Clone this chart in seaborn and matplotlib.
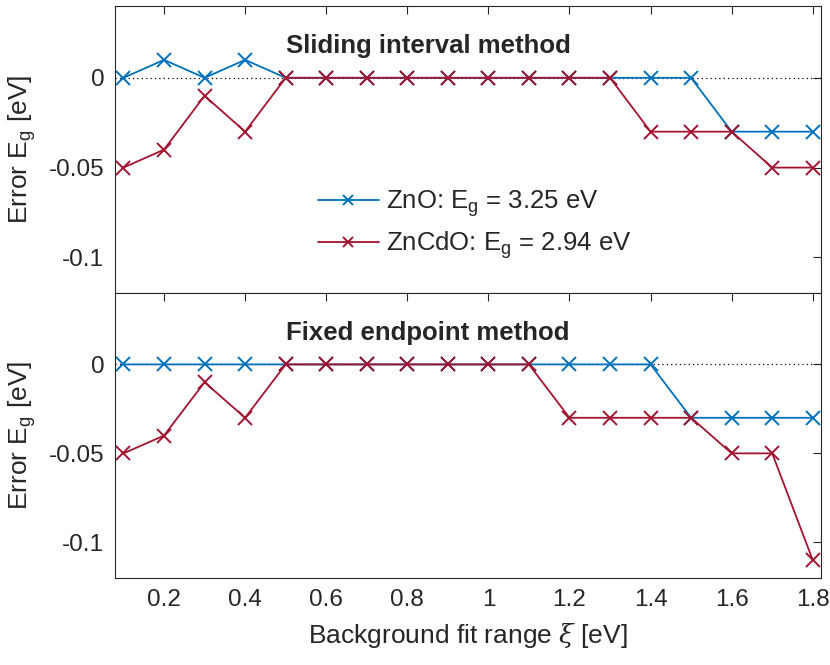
import numpy as np
import pandas as pd
import seaborn as sns
import matplotlib
matplotlib.use("Agg")
import matplotlib.pyplot as plt

# background fit range (eV)
xi = [0.1, 0.2, 0.3, 0.4, 0.5, 0.6, 0.7, 0.8, 0.9, 1.0,
      1.1, 1.2, 1.3, 1.4, 1.5, 1.6, 1.7, 1.8]

# sliding interval method
slide_zno = [0, 0.01, 0, 0.01, 0, 0, 0, 0, 0, 0,
             0, 0, 0, 0, 0, -0.03, -0.03, -0.03]
slide_zncdo = [-0.05, -0.04, -0.01, -0.03, 0, 0, 0, 0, 0, 0,
               0, 0, 0, -0.03, -0.03, -0.03, -0.05, -0.05]

# fixed endpoint method
fixed_zno = [0, 0, 0, 0, 0, 0, 0, 0, 0, 0,
             0, 0, 0, 0, -0.03, -0.03, -0.03, -0.03]
fixed_zncdo = [-0.05, -0.04, -0.01, -0.03, 0, 0, 0, 0, 0, 0,
               0, -0.03, -0.03, -0.03, -0.03, -0.05, -0.05, -0.11]

labels = ['ZnO: E$_\\mathregular{g}$ = 3.25 eV',
          'ZnCdO: E$_\\mathregular{g}$ = 2.94 eV']
titles = ['Sliding interval method', 'Fixed endpoint method']
xticks = [0.2, 0.4, 0.6, 0.8, 1.0, 1.2, 1.4, 1.6, 1.8]
xticklabels = ['0.2', '0.4', '0.6', '0.8', '1', '1.2', '1.4', '1.6', '1.8']
yticks = [-0.1, -0.05, 0]
yticklabels = ['-0.1', '-0.05', '0']

BLUE = '#0072BD'
RED = '#A2142F'

sns.set_style("white")
plt.rcParams['font.family'] = ['Liberation Sans', 'DejaVu Sans']
plt.rcParams['mathtext.fontset'] = 'custom'
plt.rcParams['mathtext.rm'] = 'Liberation Sans'
plt.rcParams['mathtext.it'] = 'DejaVu Serif:italic'
plt.rcParams['axes.unicode_minus'] = False

fig = plt.figure(figsize=(8.3, 6.65), dpi=100)
ax1 = fig.add_axes([0.139, 0.559, 0.850, 0.432])
ax2 = fig.add_axes([0.139, 0.131, 0.850, 0.428])

panels = [(ax1, slide_zno, slide_zncdo), (ax2, fixed_zno, fixed_zncdo)]
for i, (ax, zno, zncdo) in enumerate(panels):
    ax.axhline(0, color='black', ls=(0, (1, 2.5)), lw=0.9, zorder=1)
    for vals, col, lab in [(zno, BLUE, labels[0]), (zncdo, RED, labels[1])]:
        sns.lineplot(x=xi, y=vals, color=col, marker='x', markersize=10,
                     markeredgewidth=1.4, markeredgecolor=col, lw=1.3,
                     ax=ax, label=lab if i == 0 else None)
    ax.set_xlim(0.08, 1.82)
    ax.set_ylim(-0.12, 0.04)
    ax.set_yticks(yticks)
    ax.set_yticklabels(yticklabels)
    ax.set_xticks(xticks)
    ax.tick_params(direction='in', length=6, width=0.8, color='#262626',
                   top=True, right=True, labelsize=17.5, pad=8)
    for s in ax.spines.values():
        s.set_color('#262626')
        s.set_linewidth(0.8)
    ax.set_ylabel('Error E$_\\mathregular{g}$ [eV]', fontsize=19, labelpad=8)
    ax.text(0.5, 0.0175, titles[i], fontsize=18.5, fontweight='bold',
            ha='left', va='center')

ax1.set_xticklabels([])
ax2.set_xticklabels(xticklabels)
ax2.set_xlabel('Background fit range $\\xi$ [eV]', fontsize=19, labelpad=7)

leg = ax1.legend(loc='upper left', bbox_to_anchor=(0.272, 0.40),
                 frameon=False, fontsize=18.5, handlelength=2.4,
                 handletextpad=0.25, labelspacing=0.4, markerscale=0.75,
                 borderaxespad=0)

fig.savefig('out.png', dpi=100)
